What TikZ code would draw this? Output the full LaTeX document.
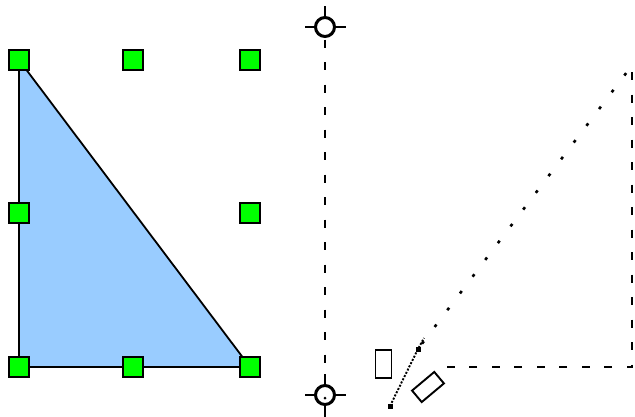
\documentclass[tikz,border=0pt]{standalone}
\definecolor{handlegreen}{RGB}{0,255,0}
\definecolor{triblue}{RGB}{153,204,255}
\begin{document}
\begin{tikzpicture}[x=1pt,y=-1pt,
  handle/.style={draw=black,line width=2.2pt,fill=handlegreen,minimum size=20.5pt,inner sep=0pt,outer sep=0pt},
  guide/.style={line width=2.1pt,dash pattern=on 8pt off 14.5pt},
  dotline/.style={line width=2.6pt,dash pattern=on 3pt off 18pt},
  fineline/.style={line width=1.9pt,dash pattern=on 2pt off 1.6pt},
  crossring/.style={circle,draw=black,line width=3pt,minimum size=19pt,inner sep=0pt,outer sep=0pt},
  tick/.style={line width=2pt},
  smallbox/.style={draw=black,line width=1.9pt,fill=white,inner sep=0pt,outer sep=0pt},
  enddot/.style={fill=black,inner sep=0pt,minimum size=5pt}]
\useasboundingbox (0,0) rectangle (635,416);

% triangle
\coordinate (va) at (19,60);
\coordinate (vb) at (19,367);
\coordinate (vc) at (250,367);
\fill[triblue] (va) -- (vb) -- (vc) -- cycle;
\draw[line width=1.8pt,line join=miter] (va) -- (vb) -- (vc) -- cycle;

% handles
\node[handle] (h1) at (19,60) {};
\node[handle] (h2) at (133,60) {};
\node[handle] (h3) at (250,60) {};
\node[handle] (h4) at (19,213) {};
\node[handle] (h5) at (250,213) {};
\node[handle] (h6) at (19,367) {};
\node[handle] (h7) at (133,367) {};
\node[handle] (h8) at (250,367) {};

% crosshairs
\node[crossring] (ct) at (325,27) {};
\node[crossring] (cb) at (325,395) {};
\draw[tick] (ct.west) -- ++(-11,0);
\draw[tick] (ct.east) -- ++(11,0);
\draw[tick] (ct.north) -- ++(0,-12);
\draw[tick] (cb.west) -- ++(-11,0);
\draw[tick] (cb.east) -- ++(11,0);
\draw[tick] (cb.north) -- ++(0,-12);
\draw[tick] (cb.south) -- ++(0,12);
\fill (325,398) circle (1.5pt);
\draw[guide] (ct.south) ++(0,3) -- (cb.north);

% right guide box
\coordinate (rt) at (632,72);
\coordinate (rc) at (632,367);
\coordinate (rl) at (436,367);
\draw[guide] (rt) -- (rc) -- (rl);

% diagonal
\node[enddot] (d1) at (418,349) {};
\node[enddot] (d0) at (390,406) {};
\coordinate (d2) at (630,68);
\draw[dotline] (d1.center) ++(4,-5.3) -- (d2);
\draw[fineline] (d0.center) -- (d1.center) -- ++(6,-11);

% small boxes
\node[smallbox,minimum width=16pt,minimum height=28pt] (b1) at (383.5,364) {};
\node[smallbox,minimum width=29pt,minimum height=15pt,rotate=40] (b2) at (428,387) {};
\end{tikzpicture}
\end{document}
